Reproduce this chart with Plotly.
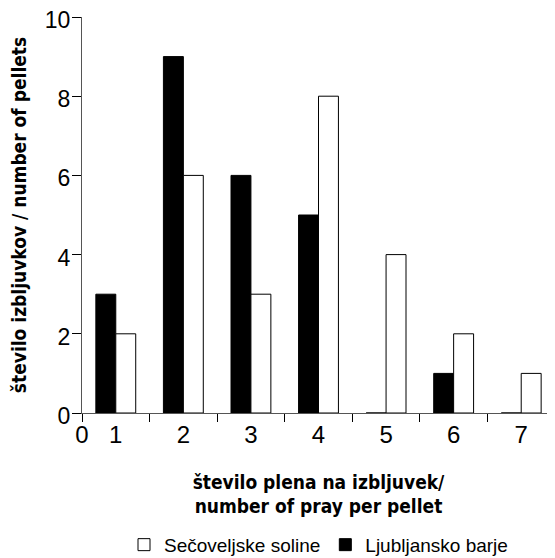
import plotly.graph_objects as go

categories = [1, 2, 3, 4, 5, 6, 7]
ljubljansko_barje = [3, 9, 6, 5, 0, 1, 0]
secoveljske_soline = [2, 6, 3, 8, 4, 2, 1]
x_tick_vals = [0.5, 1, 2, 3, 4, 5, 6, 7]
x_tick_text = ["0", "1", "2", "3", "4", "5", "6", "7"]
boundaries = [0.5, 1.5, 2.5, 3.5, 4.5, 5.5, 6.5]

FONT = "Liberation Sans, Arial, sans-serif"
TITLE_FONT = "Liberation Sans Narrow, Arial Narrow, DejaVu Sans Condensed, sans-serif"

fig = go.Figure()
fig.add_trace(go.Bar(
    x=categories, y=ljubljansko_barje, name="Ljubljansko barje",
    marker=dict(color="black", line=dict(color="black", width=1)),
    legendrank=2,
))
fig.add_trace(go.Bar(
    x=categories, y=secoveljske_soline, name="Sečoveljske soline",
    marker=dict(color="white", line=dict(color="black", width=1)),
    legendrank=1,
))

fig.update_layout(
    width=555, height=558,
    margin=dict(l=74, r=8, t=9, b=153),
    paper_bgcolor="white", plot_bgcolor="white",
    barmode="group", bargap=0.41, bargroupgap=0,
    font=dict(family=FONT, size=24, color="black"),
    showlegend=True,
    legend=dict(orientation="h", x=0.5, xanchor="center",
                y=0.038, yanchor="middle", yref="container",
                font=dict(size=19), tracegroupgap=0),
    xaxis=dict(
        range=[0.5, 7.5], tickmode="array", tickvals=x_tick_vals, ticktext=x_tick_text,
        ticks="", showgrid=False, zeroline=False, automargin=False,
        showline=True, linecolor="#555", linewidth=1,
        minor=dict(tickmode="array", tickvals=boundaries, ticks="outside", ticklen=8,
                   tickcolor="black", showgrid=False),
        title=dict(text="<b>število plena na izbljuvek/<br>number of pray per pellet</b>",
                   font=dict(family=TITLE_FONT, size=19), standoff=28),
    ),
    yaxis=dict(
        range=[0, 10], tickmode="linear", tick0=0, dtick=2,
        ticks="outside", ticklen=9, tickcolor="black", ticklabeloverflow="allow",
        ticklabelshift=3, ticklabelstandoff=-3, tickfont=dict(size=23),
        showgrid=False, zeroline=False, automargin=False,
        showline=True, linecolor="#555", linewidth=1,
        title=dict(text="<b>število izbljuvkov / number of pellets</b>",
                   font=dict(family=TITLE_FONT, size=19), standoff=14),
    ),
)

fig.write_html("out.html")
